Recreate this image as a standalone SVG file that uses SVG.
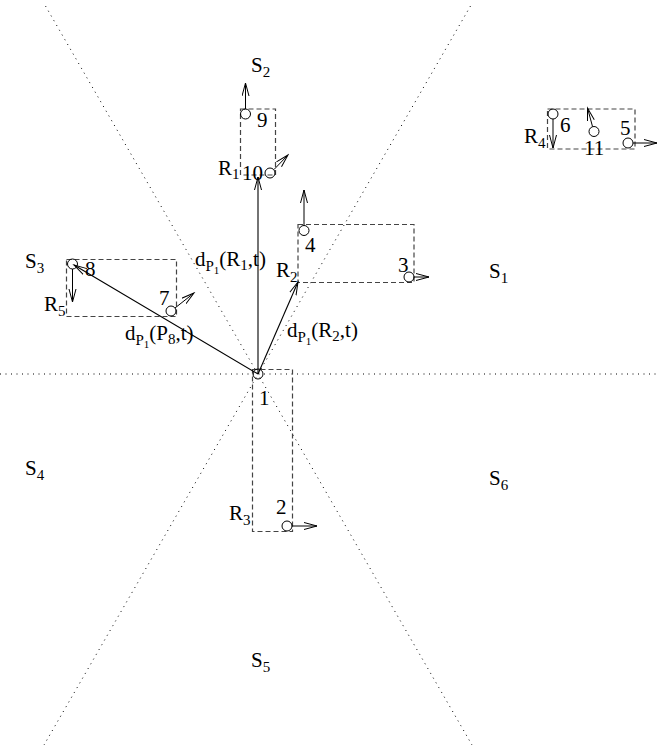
<svg xmlns="http://www.w3.org/2000/svg" width="657" height="750" viewBox="0 0 657 750">
<style>
text{font-family:"Liberation Serif","Times New Roman",serif;font-size:21px;fill:#000}
.sub{font-size:15px}
.sub2{font-size:11px}
.dot{stroke:#000;stroke-width:1;stroke-dasharray:1 4.5;fill:none}
.box{stroke:#444;stroke-width:1.2;stroke-dasharray:5 3;fill:none}
.pt{stroke:#000;stroke-width:1;fill:none}
.vel{stroke:#000;stroke-width:1;fill:none;marker-end:url(#ah)}
.vec{stroke:#000;stroke-width:1.1;fill:none;marker-end:url(#ah)}
</style>
<defs>
<marker id="ah" markerUnits="userSpaceOnUse" markerWidth="15" markerHeight="10" refX="13" refY="4" orient="auto">
<path d="M0,0.5 L13,4 L0,7.5" fill="none" stroke="#000" stroke-width="1"/>
</marker>
</defs>
<rect width="657" height="750" fill="#fff"/>
<g id="sector-lines">
<line class="dot" x1="0" y1="374" x2="657" y2="374"/>
<line class="dot" x1="45.5" y1="6" x2="472" y2="745"/>
<line class="dot" x1="470.5" y1="6" x2="44" y2="745"/>
</g>
<g id="sector-labels">
<text x="251" y="72">S<tspan class="sub" dy="5">2</tspan></text>
<text x="489" y="278">S<tspan class="sub" dy="5">1</tspan></text>
<text x="25" y="268">S<tspan class="sub" dy="5">3</tspan></text>
<text x="25" y="475">S<tspan class="sub" dy="5">4</tspan></text>
<text x="251" y="667">S<tspan class="sub" dy="5">5</tspan></text>
<text x="489" y="485">S<tspan class="sub" dy="5">6</tspan></text>
</g>
<g id="R1">
<rect class="box" x="240.5" y="109" width="35" height="66"/>
<text x="218" y="175">R<tspan class="sub" dy="4">1</tspan></text>
</g>
<g id="R2">
<rect class="box" x="298" y="224.5" width="116" height="58"/>
<text x="276" y="277">R<tspan class="sub" dy="5">2</tspan></text>
</g>
<g id="R3">
<rect class="box" x="252.5" y="369.5" width="40" height="162"/>
<text x="229" y="520">R<tspan class="sub" dy="5">3</tspan></text>
</g>
<g id="R4">
<rect class="box" x="547.5" y="109" width="87.5" height="40"/>
<text x="524" y="143">R<tspan class="sub" dy="5">4</tspan></text>
</g>
<g id="R5">
<rect class="box" x="66.5" y="259.5" width="110" height="57"/>
<text x="44" y="311">R<tspan class="sub" dy="5">5</tspan></text>
</g>
<g id="p1">
<circle class="pt" cx="258" cy="374" r="5"/>
<text x="259" y="405">1</text>
</g>
<g id="p2">
<circle class="pt" cx="287" cy="526" r="5"/>
<line class="vel" x1="292" y1="526" x2="317" y2="526"/>
<text x="276" y="514">2</text>
</g>
<g id="p3">
<circle class="pt" cx="409" cy="277" r="5"/>
<line class="vel" x1="414" y1="277" x2="429" y2="277"/>
<text x="398" y="272">3</text>
</g>
<g id="p4">
<circle class="pt" cx="304" cy="230.5" r="5"/>
<line class="vel" x1="304" y1="225.5" x2="304" y2="190"/>
<text x="305" y="252">4</text>
</g>
<g id="p5">
<circle class="pt" cx="628" cy="143" r="5"/>
<line class="vel" x1="633" y1="143" x2="657" y2="143"/>
<text x="620" y="135">5</text>
</g>
<g id="p6">
<circle class="pt" cx="553" cy="114" r="5"/>
<line class="vel" x1="553" y1="119" x2="553" y2="148"/>
<text x="560" y="132">6</text>
</g>
<g id="p7">
<circle class="pt" cx="171" cy="311" r="5"/>
<line class="vel" x1="175" y1="308" x2="194" y2="293"/>
<text x="159" y="305">7</text>
</g>
<g id="p8">
<circle class="pt" cx="72.5" cy="264" r="5"/>
<line class="vel" x1="72.5" y1="269" x2="72.5" y2="302"/>
<text x="85" y="276">8</text>
</g>
<g id="p9">
<circle class="pt" cx="245.5" cy="114" r="5"/>
<line class="vel" x1="245.5" y1="109" x2="245.5" y2="83"/>
<text x="257" y="127">9</text>
</g>
<g id="p10">
<circle class="pt" cx="270" cy="173" r="5"/>
<line class="vel" x1="274" y1="169.5" x2="288" y2="155"/>
<text x="242" y="180">10</text>
</g>
<g id="p11">
<circle class="pt" cx="594" cy="131.5" r="5"/>
<line class="vel" x1="592.5" y1="126.5" x2="587.5" y2="108"/>
<text x="584" y="155">11</text>
</g>
<g id="connectors">
<line class="vec" x1="258" y1="374" x2="258" y2="177"/>
<line class="vec" x1="258" y1="374" x2="298" y2="282"/>
<line class="vec" x1="258" y1="374" x2="74" y2="265"/>
<text x="195" y="266">d<tspan class="sub" dy="5">P</tspan><tspan class="sub2" dy="3">1</tspan><tspan dy="-8">(R</tspan><tspan class="sub" dy="4">1</tspan><tspan dy="-4">,t)</tspan></text>
<text x="287" y="337">d<tspan class="sub" dy="5">P</tspan><tspan class="sub2" dy="3">1</tspan><tspan dy="-8">(R</tspan><tspan class="sub" dy="4">2</tspan><tspan dy="-4">,t)</tspan></text>
<text x="125" y="340">d<tspan class="sub" dy="5">P</tspan><tspan class="sub2" dy="3">1</tspan><tspan dy="-8">(P</tspan><tspan class="sub" dy="4">8</tspan><tspan dy="-4">,t)</tspan></text>
</g>
</svg>
